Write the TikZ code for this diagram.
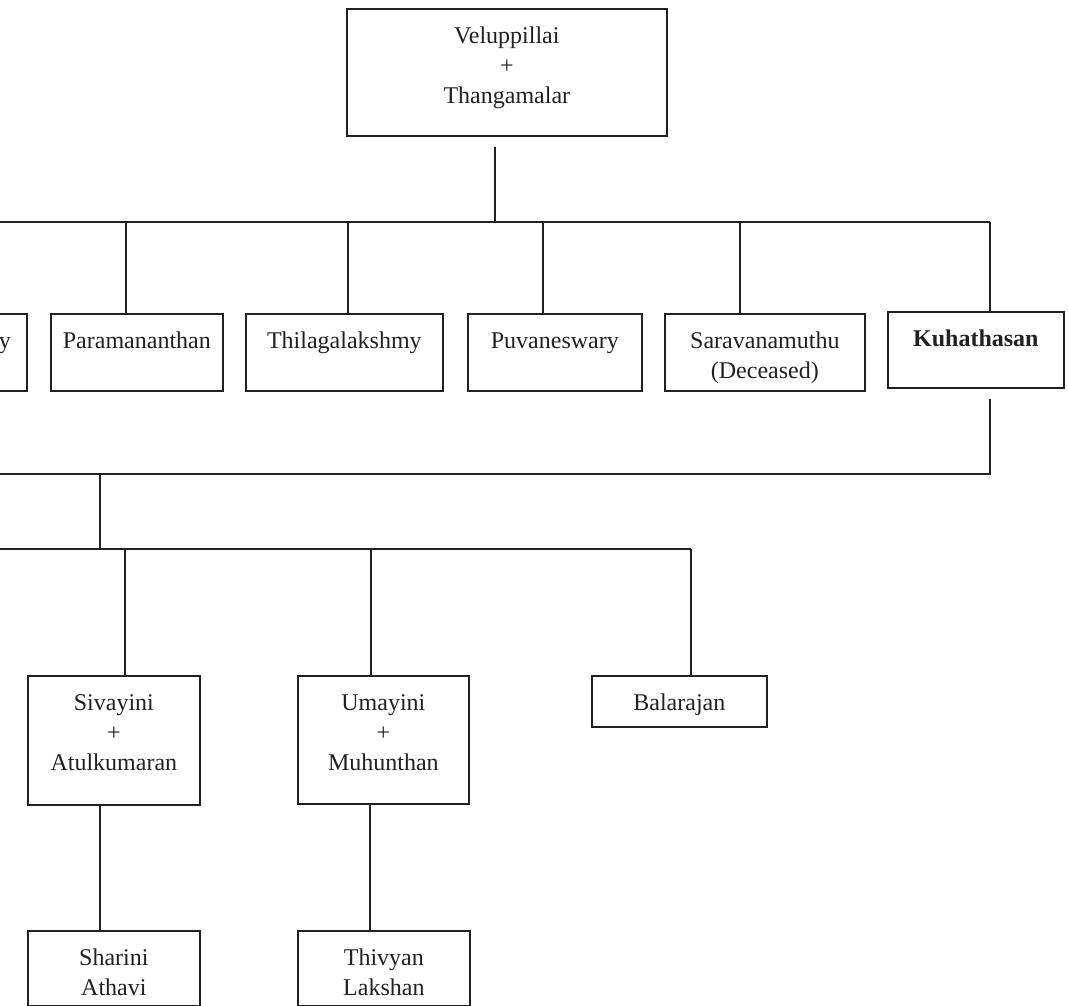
\documentclass[tikz,border=0pt]{standalone}
\usepackage{fontspec}
\setmainfont{Liberation Serif}
\definecolor{ink}{gray}{0.13}
\newcommand\boxtext[3]{\parbox[c][#2pt][t]{#1pt}{\centering\setlength{\baselineskip}{30pt}\rule{0pt}{35pt}#3\par}}
\begin{document}
\begin{tikzpicture}[x=1pt,y=-1pt,
  person/.style={draw=ink, line width=1.7pt, inner sep=0pt, anchor=north west,
                 font=\fontsize{24}{30}\selectfont, text=ink},
  link/.style={draw=ink, line width=1.7pt}]
\useasboundingbox (0,0) rectangle (1068,1006);
\fill[white] (0,0) rectangle (1068,1006);
\clip (0,0) rectangle (1068,1006);

% generation 1
\node[person] (top) at (346,8) {\boxtext{320}{127}{Veluppillai\\+\\Thangamalar}};

% generation 2
\node[person] (cut) at (-150,313) {\parbox[c][77pt][t]{176pt}{\rule{0pt}{35pt}\hfill y\hspace*{16pt}}};
\node[person] (para) at (50,313) {\boxtext{172}{77}{Paramananthan}};
\node[person] (thila) at (245,313) {\boxtext{197}{77}{Thilagalakshmy}};
\node[person] (puva) at (467,313) {\boxtext{174}{77}{Puvaneswary}};
\node[person] (sara) at (664,313) {\boxtext{200}{77}{Saravanamuthu\\(Deceased)}};
\node[person] (kuha) at (887,311) {\boxtext{176}{76}{\textbf{Kuhathasan}}};

% generation 3
\node[person] (siva) at (27,675) {\boxtext{172}{129}{Sivayini\\+\\Atulkumaran}};
\node[person] (uma) at (297,675) {\boxtext{171}{128}{Umayini\\+\\Muhunthan}};
\node[person] (bala) at (591,675) {\boxtext{175}{51}{Balarajan}};

% generation 4
\node[person] (shar) at (27,930) {\boxtext{172}{75}{Sharini\\Athavi}};
\node[person] (thiv) at (297,930) {\boxtext{172}{75}{Thivyan\\Lakshan}};

% bus of generation 2
\coordinate (b1L) at (-20,222);
\coordinate (b1R) at (990,222);
\coordinate (tdrop) at (495,222);
\draw[link] (b1L) -- (b1R);
\draw[link] ([yshift=-10pt]top.south -| tdrop) -- (tdrop);
\draw[link] (cut.north) -- (cut.north |- b1L);
\foreach \x/\n in {126/para, 348/thila, 543/puva, 740/sara, 990/kuha}{
  \coordinate (d\n) at (\x,222);
  \draw[link] (d\n) -- (d\n |- \n.north);
}

% from Kuhathasan to generation 3
\coordinate (k2) at (990,474);
\coordinate (b2L) at (-20,474);
\coordinate (m2) at (100,474);
\coordinate (m3) at (100,549);
\coordinate (b3L) at (-20,549);
\coordinate (b3R) at (691,549);
\draw[link] ([yshift=-10pt]kuha.south -| k2) -- (k2) -- (b2L);
\draw[link] (m2) -- (m3);
\draw[link] (b3L) -- (b3R);
\foreach \x/\n in {125/siva, 371/uma, 691/bala}{
  \coordinate (e\n) at (\x,549);
  \draw[link] (e\n) -- (e\n |- \n.north);
}

% generation 4 links
\coordinate (sx) at (100,800);
\coordinate (ux) at (370,800);
\draw[link] (siva.south -| sx) -- (shar.north -| sx);
\draw[link] (uma.south -| ux) -- (thiv.north -| ux);
\end{tikzpicture}
\end{document}
